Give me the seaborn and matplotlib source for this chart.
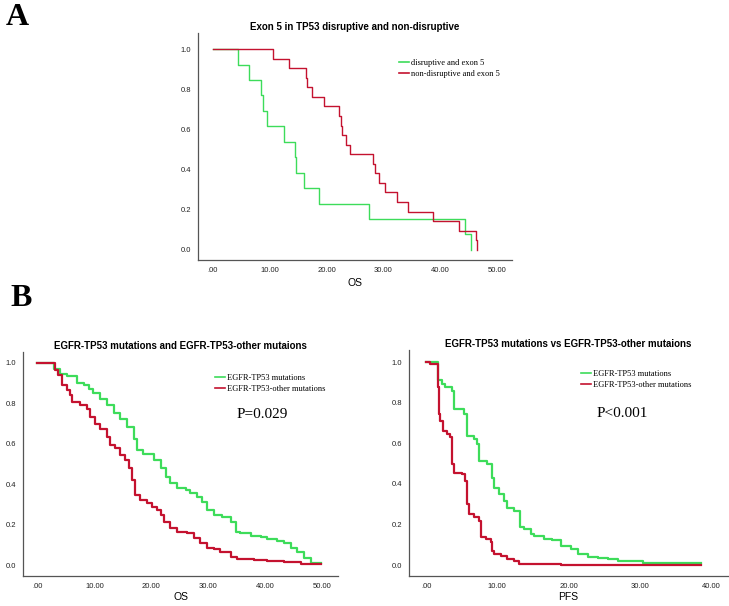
import numpy as np
import pandas as pd
import matplotlib
matplotlib.use("Agg")
import matplotlib.pyplot as plt
import seaborn as sns
from matplotlib.lines import Line2D

# ---------------- data ----------------
# Panel A: Exon 5 disruptive vs non-disruptive (OS)
a_dis_t = [0, 4.4, 6.3, 8.5, 8.9, 9.5, 12.5, 14.5, 14.6, 16.0, 18.6, 27.5, 44.4, 45.4]
a_dis_s = [1.0, 0.923, 0.846, 0.769, 0.692, 0.615, 0.538, 0.462, 0.385, 0.308, 0.231, 0.154, 0.077, 0.0]
a_non_t = [0, 10.5, 13.4, 16.3, 16.5, 17.5, 19.6, 22.2, 22.5, 22.8, 23.5, 24.1, 28.2, 28.6,
           29.2, 30.3, 32.4, 34.3, 38.8, 43.2, 46.2, 46.5]
a_non_s = [1.0, 0.952, 0.905, 0.857, 0.810, 0.762, 0.714, 0.667, 0.619, 0.571, 0.524, 0.476,
           0.429, 0.381, 0.333, 0.286, 0.238, 0.190, 0.143, 0.095, 0.048, 0.0]

# Panel B left: OS
bl_tp53_t = [0, 2.6, 3.0, 4.0, 5.2, 6.9, 8.1, 9.0, 9.8, 11.0, 12.2, 13.4, 14.5, 15.7, 16.9, 17.5,
             18.6, 20.4, 21.6, 22.5, 23.3, 24.5, 26.0, 26.8, 28.0, 28.9, 29.8, 30.9, 32.4, 33.9,
             34.8, 35.6, 37.4, 39.2, 40.3, 42.1, 43.3, 44.4, 45.6, 46.8, 47.9, 49.7]
bl_tp53_s = [1.0, 1.0, 0.97, 0.947, 0.934, 0.90, 0.89, 0.873, 0.85, 0.823, 0.79, 0.75, 0.725, 0.684,
             0.626, 0.568, 0.552, 0.519, 0.478, 0.437, 0.404, 0.379, 0.37, 0.357, 0.338, 0.313,
             0.272, 0.247, 0.239, 0.214, 0.165, 0.157, 0.143, 0.137, 0.127, 0.12, 0.107, 0.087,
             0.066, 0.033, 0.012, 0.012]
bl_oth_t = [0, 2.6, 3.1, 3.7, 4.3, 5.2, 5.7, 6.0, 7.5, 8.7, 9.3, 10.1, 11.0, 12.2, 12.8, 13.7,
            14.5, 15.4, 16.0, 16.6, 17.2, 18.0, 19.2, 20.1, 21.0, 21.6, 22.2, 23.3, 24.5, 26.3,
            27.4, 28.6, 29.8, 30.9, 32.1, 33.9, 35.0, 38.0, 40.3, 43.3, 46.2, 49.7]
bl_oth_s = [1.0, 1.0, 0.964, 0.94, 0.89, 0.865, 0.84, 0.807, 0.79, 0.774, 0.733, 0.70, 0.675,
            0.634, 0.593, 0.577, 0.544, 0.519, 0.478, 0.42, 0.346, 0.32, 0.305, 0.288, 0.272,
            0.247, 0.214, 0.181, 0.165, 0.157, 0.132, 0.107, 0.086, 0.079, 0.066, 0.041, 0.03,
            0.025, 0.02, 0.013, 0.003, 0.003]

# Panel B right: PFS
br_tp53_t = [0, 1.7, 2.25, 2.7, 3.7, 3.9, 5.3, 5.7, 6.7, 7.2, 7.5, 8.6, 9.3, 9.5, 10.2, 10.9,
             11.4, 12.3, 13.2, 13.8, 14.7, 15.2, 16.6, 17.7, 18.9, 20.3, 21.3, 22.7, 24.1, 25.5,
             26.9, 28.3, 30.4, 38.6]
br_tp53_s = [1.0, 0.91, 0.893, 0.877, 0.86, 0.77, 0.745, 0.638, 0.62, 0.597, 0.515, 0.498, 0.43,
             0.38, 0.35, 0.317, 0.283, 0.268, 0.186, 0.178, 0.153, 0.145, 0.128, 0.125, 0.092,
             0.079, 0.054, 0.038, 0.035, 0.03, 0.021, 0.018, 0.01, 0.01]
br_oth_t = [0, 0.6, 1.7, 1.75, 1.8, 2.0, 2.4, 2.9, 3.4, 3.7, 3.9, 5.1, 5.5, 5.8, 6.0, 6.7, 7.4,
            7.7, 8.4, 9.1, 9.3, 9.5, 10.5, 11.4, 12.3, 13.0, 14.2, 18.9, 38.6]
br_oth_s = [1.0, 0.993, 0.877, 0.80, 0.745, 0.712, 0.663, 0.646, 0.63, 0.498, 0.454, 0.45,
            0.416, 0.30, 0.252, 0.235, 0.219, 0.137, 0.128, 0.112, 0.071, 0.054, 0.046, 0.03,
            0.021, 0.005, 0.003, 0.0, 0.0]

GREEN = "#3ddc5a"
RED = "#c4122f"

def frame(t, s, grp):
    return pd.DataFrame({"time": t, "surv": s, "group": grp})

fig = plt.figure(figsize=(7.29, 6.06), dpi=100)
sans = ["Liberation Sans", "DejaVu Sans"]
serif = ["Liberation Serif", "DejaVu Serif"]

def style(ax, xlim, ylim, xticks, title, xlabel, xlabel_y):
    ax.set_xlim(*xlim)
    ax.set_ylim(*ylim)
    ax.set_xticks(xticks)
    ax.set_xticklabels([".00" if v == 0 else f"{v:.2f}" for v in xticks], fontsize=5.5,
                       family=sans, color="#222222")
    yt = [0.0, 0.2, 0.4, 0.6, 0.8, 1.0]
    ax.set_yticks(yt)
    ax.set_yticklabels([f"{v:.1f}" for v in yt], fontsize=5.5, family=sans, color="#222222")
    ax.tick_params(length=0, pad=5)
    for sp in ["top", "right"]:
        ax.spines[sp].set_visible(False)
    for sp in ["left", "bottom"]:
        ax.spines[sp].set_color("#555555")
        ax.spines[sp].set_linewidth(0.9)
    ax.set_facecolor("white")
    ax.set_title(title, fontsize=7, fontweight="bold", family=sans, pad=2)
    ax.set_xlabel(xlabel, fontsize=7.5, family=sans)
    ax.xaxis.set_label_coords(0.5, xlabel_y)
    ax.set_ylabel("")

def curves(ax, d1, d2, lab1, lab2, lw=1.2):
    df = pd.concat([frame(*d1, lab1), frame(*d2, lab2)])
    sns.lineplot(data=df, x="time", y="surv", hue="group", palette={lab1: GREEN, lab2: RED},
                 drawstyle="steps-post", linewidth=lw, ax=ax, legend=False, estimator=None,
                 sort=False)

def legend(ax, lab1, lab2, loc, fs=6):
    h = [Line2D([], [], color=GREEN, lw=1.2), Line2D([], [], color=RED, lw=1.2)]
    ax.legend(h, [lab1, lab2], loc="upper left", bbox_to_anchor=loc, frameon=False,
              prop={"family": serif, "size": fs}, handlelength=1.2, handletextpad=0.2,
              labelspacing=0.3, borderaxespad=0)

# Panel A
axA = fig.add_axes([0.2716, 0.571, 0.4307, 0.3746])
curves(axA, (a_dis_t, a_dis_s), (a_non_t, a_non_s), "disruptive and exon 5",
       "non-disruptive and exon 5", lw=1.0)
style(axA, (-2.6, 52.6), (-0.05, 1.08), [0, 10, 20, 30, 40, 50],
      "Exon 5 in TP53 disruptive and non-disruptive", "OS", -0.08)
legend(axA, "disruptive and exon 5", "non-disruptive and exon 5", (0.63, 0.90))

# Panel B left
axL = fig.add_axes([0.0316, 0.0495, 0.432, 0.3696])
curves(axL, (bl_tp53_t, bl_tp53_s), (bl_oth_t, bl_oth_s), "EGFR-TP53 mutations",
       "EGFR-TP53-other mutations", lw=1.6)
style(axL, (-2.5, 52.7), (-0.054, 1.054), [0, 10, 20, 30, 40, 50],
      "EGFR-TP53 mutations and EGFR-TP53-other mutaions", "OS", -0.07)
legend(axL, "EGFR-TP53 mutations", "EGFR-TP53-other mutations", (0.60, 0.915))
axL.text(0.76, 0.72, "P=0.029", transform=axL.transAxes, family=serif, fontsize=11,
         ha="center", va="center")

# Panel B right
axR = fig.add_axes([0.561, 0.0495, 0.4376, 0.373])
curves(axR, (br_tp53_t, br_tp53_s), (br_oth_t, br_oth_s), "EGFR-TP53 mutations",
       "EGFR-TP53-other mutations", lw=1.6)
style(axR, (-2.4, 42.4), (-0.054, 1.06), [0, 10, 20, 30, 40],
      "EGFR-TP53 mutations vs EGFR-TP53-other mutaions", "PFS", -0.07)
legend(axR, "EGFR-TP53 mutations", "EGFR-TP53-other mutations", (0.53, 0.925))
axR.text(0.67, 0.72, "P<0.001", transform=axR.transAxes, family=serif, fontsize=11,
         ha="center", va="center")

fig.text(0.008, 0.995, "A", family=serif, fontsize=23, fontweight="bold", va="top", ha="left")
fig.text(0.015, 0.531, "B", family=serif, fontsize=23, fontweight="bold", va="top", ha="left")

fig.savefig("out.png", dpi=100, facecolor="white")
